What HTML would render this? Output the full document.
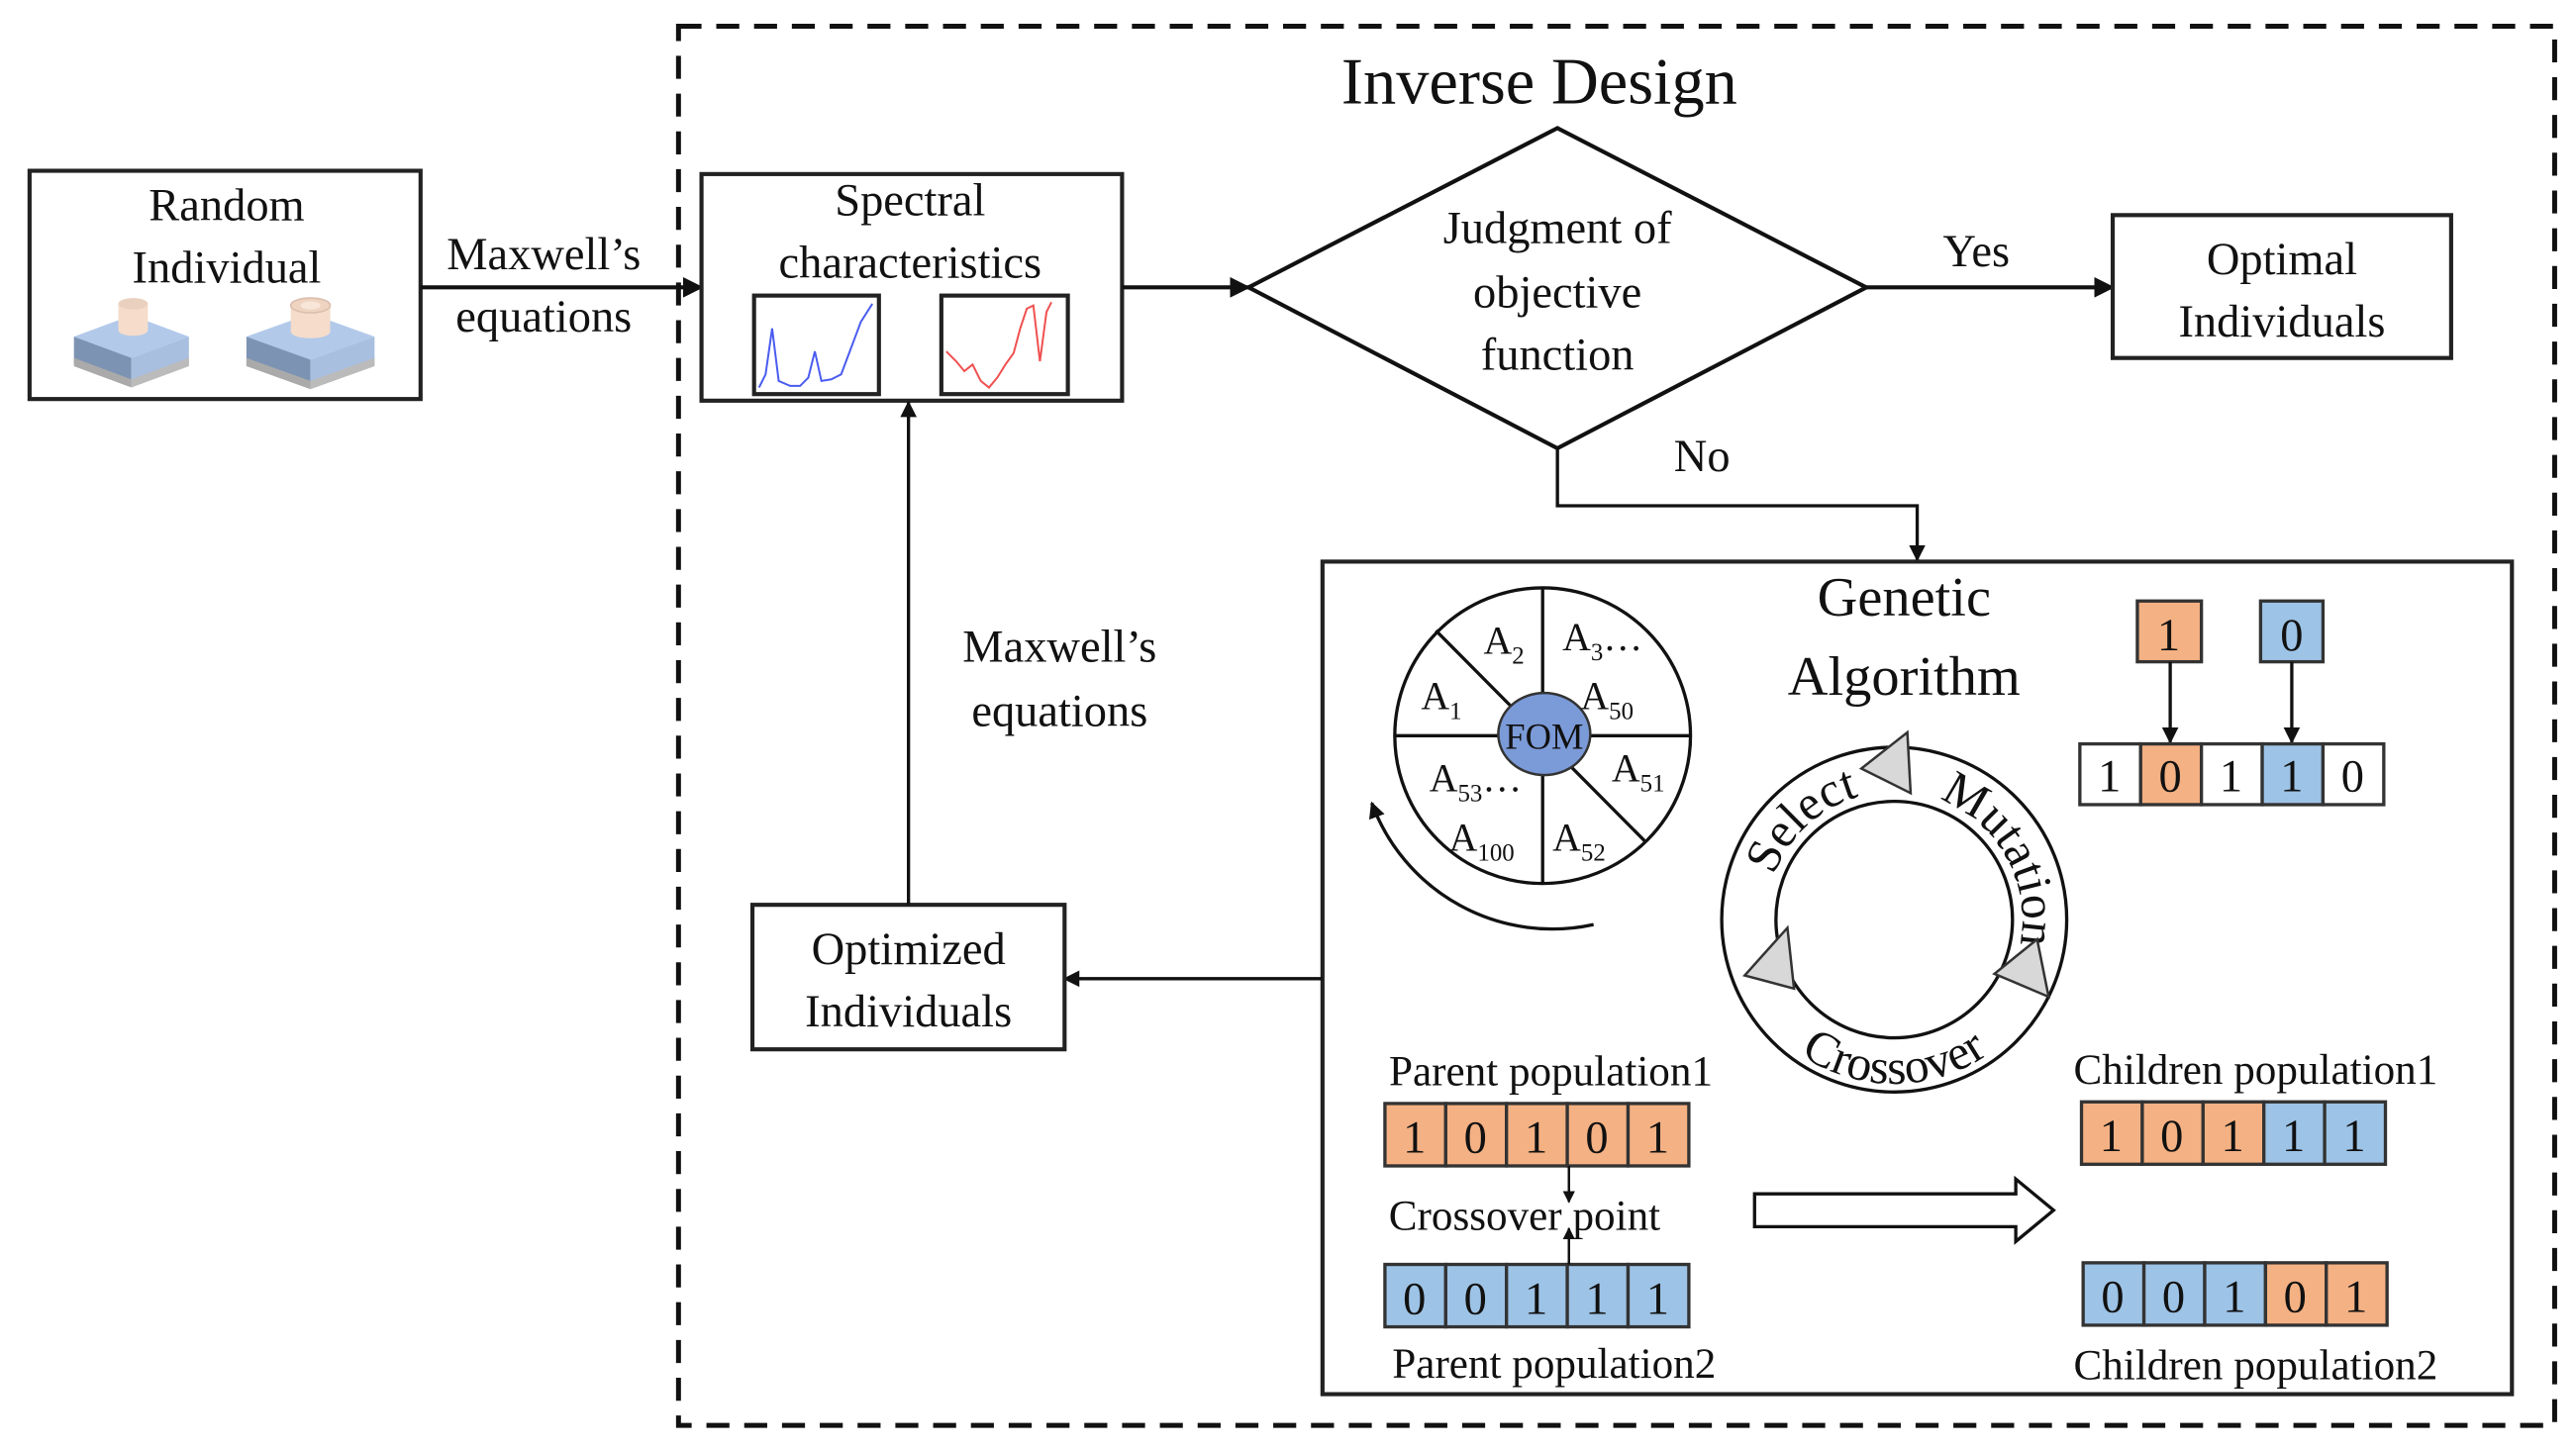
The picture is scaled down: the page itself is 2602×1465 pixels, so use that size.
<!DOCTYPE html>
<html><head><meta charset="utf-8"><style>
html,body{margin:0;padding:0;background:#fff}
svg{display:block}
text{font-family:"Liberation Serif",serif;fill:#111}
</style></head><body>
<svg width="2602" height="1465" viewBox="0 0 1568 883" preserveAspectRatio="none" xmlns="http://www.w3.org/2000/svg">
<defs>
<marker id="ar" viewBox="0 0 10 10" refX="9" refY="5" markerWidth="5" markerHeight="5" orient="auto-start-reverse">
<path d="M0,0 L10,5 L0,10 z" fill="#111"/></marker>
</defs>
<rect x="0" y="0" width="1568" height="883" fill="#fff"/>
<rect x="413" y="16" width="1142" height="852" fill="none" stroke="#111" stroke-width="3" stroke-dasharray="14,9"/>
<text x="937" y="63" font-size="40" text-anchor="middle">Inverse Design</text>

<rect x="18" y="104" width="238" height="139" fill="#fff" stroke="#222" stroke-width="2.5"/>
<text x="138" y="134" font-size="28" text-anchor="middle">Random</text>
<text x="138" y="172" font-size="28" text-anchor="middle">Individual</text>
<g>
<polygon points="45,205 80,192 115,205 80,218" fill="#b2c9ea"/>
<polygon points="45,205 80,218 80,235 45,222" fill="#7d93b3"/>
<polygon points="115,205 80,218 80,235 115,222" fill="#a9bfdf"/>
<polygon points="45,218 80,231 80,236 45,223" fill="#aaa"/>
<polygon points="115,218 80,231 80,236 115,223" fill="#bbb"/>
<rect x="72" y="185" width="18" height="16" fill="#f5dccb"/>
<ellipse cx="81" cy="185" rx="9" ry="3.5" fill="#ead0be"/>
<ellipse cx="81" cy="201" rx="9" ry="3.5" fill="#f5dccb"/>
</g>
<g>
<polygon points="150,205 189,191 228,205 189,219" fill="#b2c9ea"/>
<polygon points="150,205 189,219 189,236 150,222" fill="#7d93b3"/>
<polygon points="228,205 189,219 189,236 228,222" fill="#a9bfdf"/>
<polygon points="150,218 189,232 189,237 150,223" fill="#aaa"/>
<polygon points="228,218 189,232 189,237 228,223" fill="#bbb"/>
<rect x="177" y="186" width="24" height="16" fill="#f5dccb"/>
<ellipse cx="189" cy="202" rx="12" ry="4" fill="#f5dccb"/>
<ellipse cx="189" cy="186" rx="12" ry="4.5" fill="#efd4c2" stroke="#dcbfae"/>
<ellipse cx="189" cy="186" rx="6" ry="2.5" fill="#f8e6d8"/>
</g>

<line x1="256" y1="175" x2="427" y2="175" stroke="#111" stroke-width="2.5" marker-end="url(#ar)"/>
<text x="331" y="164" font-size="28" text-anchor="middle">Maxwell’s</text>
<text x="331" y="202" font-size="28" text-anchor="middle">equations</text>

<rect x="427" y="106" width="256" height="138" fill="#fff" stroke="#222" stroke-width="2.5"/>
<text x="554" y="131" font-size="28" text-anchor="middle">Spectral</text>
<text x="554" y="169" font-size="28" text-anchor="middle">characteristics</text>
<rect x="459" y="180" width="76" height="60" fill="#fff" stroke="#222" stroke-width="2.5"/>
<path d="M462,236 L466,228 L470,200 L474,232 L481,235 L487,235 L492,230 L496,214 L500,232 L506,231 L512,228 L518,212 L524,196 L531,185" fill="none" stroke="#4a5cf0" stroke-width="1.2"/>
<rect x="573" y="180" width="77" height="60" fill="#fff" stroke="#222" stroke-width="2.5"/>
<path d="M576,214 L582,220 L587,226 L592,222 L597,232 L602,236 L607,230 L612,222 L617,215 L621,200 L625,188 L629,186 L633,220 L637,190 L640,184" fill="none" stroke="#f05050" stroke-width="1.2"/>

<line x1="683" y1="175" x2="760" y2="175" stroke="#111" stroke-width="2.5" marker-end="url(#ar)"/>
<polygon points="760,175 948,78 1136,175 948,273" fill="#fff" stroke="#111" stroke-width="2.5"/>
<text x="948" y="148" font-size="28" text-anchor="middle">Judgment of</text>
<text x="948" y="187" font-size="28" text-anchor="middle">objective</text>
<text x="948" y="225" font-size="28" text-anchor="middle">function</text>

<line x1="1136" y1="175" x2="1286" y2="175" stroke="#111" stroke-width="2.5" marker-end="url(#ar)"/>
<text x="1203" y="162" font-size="28" text-anchor="middle">Yes</text>
<rect x="1286" y="131" width="206" height="87" fill="#fff" stroke="#222" stroke-width="2.5"/>
<text x="1389" y="167" font-size="28" text-anchor="middle">Optimal</text>
<text x="1389" y="205" font-size="28" text-anchor="middle">Individuals</text>

<polyline points="948,273 948,308 1167,308 1167,341" fill="none" stroke="#111" stroke-width="2" marker-end="url(#ar)"/>
<text x="1036" y="287" font-size="28" text-anchor="middle">No</text>

<rect x="805" y="342" width="724" height="507" fill="#fff" stroke="#222" stroke-width="2.5"/>
<line x1="805" y1="596" x2="648" y2="596" stroke="#111" stroke-width="2" marker-end="url(#ar)"/>
<rect x="458" y="551" width="190" height="88" fill="#fff" stroke="#222" stroke-width="2.5"/>
<text x="553" y="587" font-size="28" text-anchor="middle">Optimized</text>
<text x="553" y="625" font-size="28" text-anchor="middle">Individuals</text>
<line x1="553" y1="551" x2="553" y2="245" stroke="#111" stroke-width="2" marker-end="url(#ar)"/>
<text x="645" y="403" font-size="28" text-anchor="middle">Maxwell’s</text>
<text x="645" y="442" font-size="28" text-anchor="middle">equations</text>

<circle cx="939" cy="448" r="90" fill="#fff" stroke="#111" stroke-width="2"/>
<line x1="849" y1="448" x2="1029" y2="448" stroke="#111" stroke-width="2"/>
<line x1="939" y1="358" x2="939" y2="538" stroke="#111" stroke-width="2"/>
<line x1="874" y1="384" x2="1001" y2="512" stroke="#111" stroke-width="2"/>
<ellipse cx="940" cy="447" rx="28" ry="25" fill="#7b9ad8" stroke="#333" stroke-width="1.5"/>
<text x="940" y="456" font-size="22" text-anchor="middle">FOM</text>
<g font-size="24">
<text x="865" y="432">A<tspan font-size="15" dy="6">1</tspan></text>
<text x="903" y="398">A<tspan font-size="15" dy="6">2</tspan></text>
<text x="951" y="396">A<tspan font-size="15" dy="6">3</tspan><tspan dy="-6">…</tspan></text>
<text x="962" y="432">A<tspan font-size="15" dy="6">50</tspan></text>
<text x="981" y="476">A<tspan font-size="15" dy="6">51</tspan></text>
<text x="945" y="518">A<tspan font-size="15" dy="6">52</tspan></text>
<text x="882" y="518">A<tspan font-size="15" dy="6">100</tspan></text>
<text x="870" y="482">A<tspan font-size="15" dy="6">53</tspan><tspan dy="-6">…</tspan></text>
</g>
<path d="M970,563 A117,117 0 0 1 835,489" fill="none" stroke="#111" stroke-width="2" marker-end="url(#ar)"/>

<text x="1159" y="375" font-size="34" text-anchor="middle">Genetic</text>
<text x="1159" y="423" font-size="34" text-anchor="middle">Algorithm</text>

<circle cx="1153" cy="560" r="105" fill="#fff" stroke="#111" stroke-width="2"/>
<circle cx="1153" cy="560" r="72" fill="#fff" stroke="#111" stroke-width="2"/>
<path id="topc" d="M1075,560 A78,78 0 1 1 1231,560 A78,78 0 1 1 1075,560" fill="none"/>
<path id="botc" d="M1053,560 A100,100 0 0 0 1253,560" fill="none"/>
<text font-size="30"><textPath href="#topc" startOffset="64" text-anchor="middle">Select</textPath></text>
<text font-size="30"><textPath href="#topc" startOffset="205" text-anchor="middle">Mutation</textPath></text>
<text font-size="30"><textPath href="#botc" startOffset="50%" text-anchor="middle">Crossover</textPath></text>
<polygon points="1161,446 1163,483 1133,468" fill="#d8d8d8" stroke="#333" stroke-width="1.5"/>
<polygon points="1088,565 1062,594 1092,602" fill="#d8d8d8" stroke="#333" stroke-width="1.5"/>
<polygon points="1240,572 1247,607 1214,593" fill="#d8d8d8" stroke="#333" stroke-width="1.5"/>

<g font-size="28" text-anchor="middle" stroke-width="2">
<rect x="1301" y="366" width="39" height="37" fill="#f4b183" stroke="#333"/>
<text x="1320" y="396">1</text>
<rect x="1376" y="366" width="38" height="37" fill="#9dc3e6" stroke="#333"/>
<text x="1395" y="396">0</text>
<line x1="1321" y1="403" x2="1321" y2="452" stroke="#111" marker-end="url(#ar)"/>
<line x1="1395" y1="403" x2="1395" y2="452" stroke="#111" marker-end="url(#ar)"/>
<rect x="1266" y="453" width="37" height="37" fill="#fff" stroke="#333"/>
<rect x="1303" y="453" width="37" height="37" fill="#f4b183" stroke="#333"/>
<rect x="1340" y="453" width="37" height="37" fill="#fff" stroke="#333"/>
<rect x="1377" y="453" width="37" height="37" fill="#9dc3e6" stroke="#333"/>
<rect x="1414" y="453" width="37" height="37" fill="#fff" stroke="#333"/>
<text x="1284" y="482">1</text><text x="1321" y="482">0</text><text x="1358" y="482">1</text><text x="1395" y="482">1</text><text x="1432" y="482">0</text>

<rect x="843" y="672" width="37" height="38" fill="#f4b183" stroke="#333"/>
<rect x="880" y="672" width="37" height="38" fill="#f4b183" stroke="#333"/>
<rect x="917" y="672" width="37" height="38" fill="#f4b183" stroke="#333"/>
<rect x="954" y="672" width="37" height="38" fill="#f4b183" stroke="#333"/>
<rect x="991" y="672" width="37" height="38" fill="#f4b183" stroke="#333"/>
<text x="861" y="702">1</text><text x="898" y="702">0</text><text x="935" y="702">1</text><text x="972" y="702">0</text><text x="1009" y="702">1</text>
<rect x="843" y="770" width="37" height="38" fill="#9dc3e6" stroke="#333"/>
<rect x="880" y="770" width="37" height="38" fill="#9dc3e6" stroke="#333"/>
<rect x="917" y="770" width="37" height="38" fill="#9dc3e6" stroke="#333"/>
<rect x="954" y="770" width="37" height="38" fill="#9dc3e6" stroke="#333"/>
<rect x="991" y="770" width="37" height="38" fill="#9dc3e6" stroke="#333"/>
<text x="861" y="800">0</text><text x="898" y="800">0</text><text x="935" y="800">1</text><text x="972" y="800">1</text><text x="1009" y="800">1</text>
<rect x="1267" y="671" width="37" height="38" fill="#f4b183" stroke="#333"/>
<rect x="1304" y="671" width="37" height="38" fill="#f4b183" stroke="#333"/>
<rect x="1341" y="671" width="37" height="38" fill="#f4b183" stroke="#333"/>
<rect x="1378" y="671" width="37" height="38" fill="#9dc3e6" stroke="#333"/>
<rect x="1415" y="671" width="37" height="38" fill="#9dc3e6" stroke="#333"/>
<text x="1285" y="701">1</text><text x="1322" y="701">0</text><text x="1359" y="701">1</text><text x="1396" y="701">1</text><text x="1433" y="701">1</text>
<rect x="1268" y="769" width="37" height="38" fill="#9dc3e6" stroke="#333"/>
<rect x="1305" y="769" width="37" height="38" fill="#9dc3e6" stroke="#333"/>
<rect x="1342" y="769" width="37" height="38" fill="#9dc3e6" stroke="#333"/>
<rect x="1379" y="769" width="37" height="38" fill="#f4b183" stroke="#333"/>
<rect x="1416" y="769" width="37" height="38" fill="#f4b183" stroke="#333"/>
<text x="1286" y="799">0</text><text x="1323" y="799">0</text><text x="1360" y="799">1</text><text x="1397" y="799">0</text><text x="1434" y="799">1</text>
</g>
<line x1="955" y1="710" x2="955" y2="732" stroke="#111" stroke-width="1.5" marker-end="url(#ar)"/>
<line x1="955" y1="770" x2="955" y2="748" stroke="#111" stroke-width="1.5" marker-end="url(#ar)"/>
<g font-size="26" text-anchor="middle">
<text x="944" y="661">Parent population1</text>
<text x="928" y="749">Crossover point</text>
<text x="946" y="839">Parent population2</text>
<text x="1373" y="660">Children population1</text>
<text x="1373" y="840">Children population2</text>
</g>
<polygon points="1068,727 1227,727 1227,718 1250,737 1227,756 1227,747 1068,747" fill="#fff" stroke="#111" stroke-width="2"/>
</svg>
</body></html>
